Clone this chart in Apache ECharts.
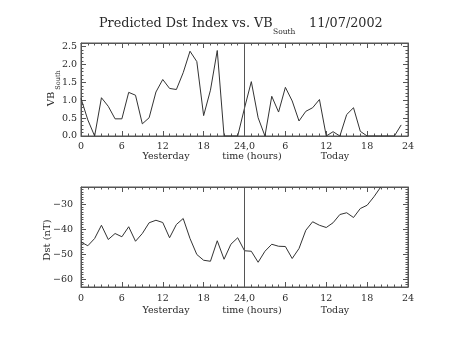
<!DOCTYPE html>
<html>
<head>
<meta charset="utf-8">
<script src="https://cdn.jsdelivr.net/npm/echarts@6/dist/echarts.min.js"></script>
<style>html,body{margin:0;padding:0;background:#fff}#c{width:453px;height:340px}#d{position:absolute;left:0;top:320px;font:8px monospace;white-space:pre;color:red}</style>
</head>
<body>
<div id="c"></div><div id="d"></div>
<script>
// Hours since start of "Yesterday" (0..47)
var hoursVB = [0,1,2,3,4,5,6,7,8,9,10,11,12,13,14,15,16,17,18,19,20,21,22,23,
               24,25,26,27,28,29,30,31,32,33,34,35,36,37,38,39,40,41,42,43,44,45,46,47];
var vbSouth = [1.05,0.45,0.0,1.07,0.83,0.48,0.48,1.22,1.14,0.34,0.51,1.23,1.58,1.33,1.30,1.77,2.37,2.08,0.57,1.28,2.39,0.0,0.0,0.0,
               0.78,1.52,0.51,0.0,1.11,0.67,1.36,0.98,0.42,0.69,0.79,1.02,0.0,0.12,0.0,0.60,0.79,0.13,0.0,0.0,0.0,0.0,0.0,0.31];
var hoursDst = [0,1,2,3,4,5,6,7,8,9,10,11,12,13,14,15,16,17,18,19,20,21,22,23,
                24,25,26,27,28,29,30,31,32,33,34,35,36,37,38,39,40,41,42,43,44];
var dst = [-45,-46.5,-43.6,-38.3,-44,-41.6,-42.9,-38.9,-44.7,-41.6,-37.3,-36.3,-37.2,-43.3,-38,-35.6,-43.6,-50,-52.3,-52.7,-44.5,-51.9,-45.9,-43.3,
           -48.5,-48.7,-53.1,-48.7,-45.9,-46.7,-46.8,-51.6,-47.6,-40.3,-36.9,-38.3,-39.2,-37.3,-34,-33.3,-35.2,-31.6,-30.3,-26.9,-23];
var xTickLabels = {0:'0',6:'6',12:'12',18:'18',24:'24,0',30:'6',36:'12',42:'18',48:'24'};
var vbTicks = [0,0.5,1.0,1.5,2.0,2.5];
var dstTicks = [-60,-50,-40,-30];
var dayMarker = 24;

var FONT = 'DejaVu Serif';
var TXT = '#2a2a2a';
var AX = '#555';

function xAxes(gi, margin) {
  function mk(pos, lab) {
    return {
      type:'value', gridIndex: gi, min:0, max:48, interval:6, position:pos,
      axisLine:{show:true, onZero:false, lineStyle:{color:AX, width:1}},
      axisTick:{show:true, inside:true, length:5, lineStyle:{color:AX}},
      minorTick:{show:true, splitNumber:6, length:2.5, lineStyle:{color:AX}},
      splitLine:{show:false},
      axisLabel:{show:true, margin:margin, color:TXT, fontFamily:FONT, fontSize:9.5,
        formatter:function(v){ return lab && xTickLabels[v] !== undefined ? xTickLabels[v] : ''; }}
    };
  }
  return [mk('bottom', true), mk('top', false)];
}
function yAxes(gi, min, max, ticks, minorInt, fmt, margin) {
  var major = function(pos, lab) {
    return {type:'value', gridIndex:gi, min:min, max:max, position:pos,
      axisLine:{show:true, onZero:false, lineStyle:{color:AX, width:1}},
      axisTick:{show:true, inside:true, length:5, customValues:ticks, lineStyle:{color:AX}},
      axisLabel:{show:true, customValues:ticks, margin:margin, color:TXT, fontFamily:FONT, fontSize:9.5,
        formatter:function(v){ return lab ? fmt(v) : ''; }},
      splitLine:{show:false}};
  };
  var minor = function(pos) {
    return {type:'value', gridIndex:gi, min:min, max:max, interval:minorInt, position:pos,
      axisLine:{show:false, onZero:false},
      axisTick:{show:true, inside:true, length:2.5, lineStyle:{color:AX}},
      axisLabel:{show:true, formatter:function(){ return ''; }}, splitLine:{show:false}};
  };
  return [major('left', true), minor('left'), major('right', false), minor('right')];
}

var chart = echarts.init(document.getElementById('c'), null, {renderer:'canvas'});
var xa = xAxes(0, 6).concat(xAxes(1, 7));
var ya = yAxes(0, 0, 2.6, vbTicks, 0.1, function(v){ return v.toFixed(1); }, 4)
   .concat(yAxes(1, -63, -23, dstTicks, 1, function(v){ return '\u2212' + Math.abs(v); }, 8));

function labelsRow(y) {
  var s = {fontFamily:FONT, fontSize:9.5, fill:TXT, textAlign:'center', textVerticalAlign:'middle'};
  return [
    {type:'text', x:166, y:y, style:Object.assign({text:'Yesterday'}, s)},
    {type:'text', x:252, y:y, style:Object.assign({text:'time (hours)'}, s)},
    {type:'text', x:335, y:y, style:Object.assign({text:'Today'}, s)}
  ];
}

function vm() {
  return {symbol:['none','none'], silent:true, label:{show:false},
    lineStyle:{color:'#555', type:'solid', width:1}, data:[{xAxis:dayMarker}], animation:false};
}

try {
chart.setOption({
  animation:false,
  backgroundColor:'#fff',
  grid:[
    {left:81, right:45, top:43, height:93, show:true, borderColor:AX, borderWidth:1, backgroundColor:'transparent'},
    {left:81, right:45, top:187, height:100, show:true, borderColor:AX, borderWidth:1, backgroundColor:'transparent'}
  ],
  xAxis: xa,
  yAxis: ya,
  series:[
    {type:'line', xAxisIndex:0, yAxisIndex:0, symbol:'none',
     lineStyle:{color:'#333', width:1},
     data: hoursVB.map(function(h,i){ return [h, vbSouth[i]]; }), markLine: vm()},
    {type:'line', xAxisIndex:2, yAxisIndex:4, symbol:'none',
     lineStyle:{color:'#333', width:1},
     data: hoursDst.map(function(h,i){ return [h, dst[i]]; }), markLine: vm()}
  ],
  graphic:[
    {type:'text', x:99, y:24, style:{text:'Predicted Dst Index vs. VB', fontFamily:FONT, fontSize:12.8, fill:TXT,
      textAlign:'left', textVerticalAlign:'middle'}},
    {type:'text', x:273, y:32, style:{text:'South', fontFamily:FONT, fontSize:7.5, fill:TXT,
      textAlign:'left', textVerticalAlign:'middle'}},
    {type:'text', x:309, y:24, style:{text:'11/07/2002', fontFamily:FONT, fontSize:12.8, fill:TXT,
      textAlign:'left', textVerticalAlign:'middle'}},
    {type:'text', x:51, y:99, rotation:Math.PI/2, style:{text:'VB', fontFamily:FONT, fontSize:10, fill:TXT,
      textAlign:'center', textVerticalAlign:'middle'}},
    {type:'text', x:58, y:80, rotation:Math.PI/2, style:{text:'South', fontFamily:FONT, fontSize:6.5, fill:TXT,
      textAlign:'center', textVerticalAlign:'middle'}},
    {type:'text', x:47, y:240, rotation:Math.PI/2, style:{
      text:'Dst (nT)', fontFamily:FONT, fontSize:10, fill:TXT, textAlign:'center', textVerticalAlign:'middle'}}
  ].concat(labelsRow(157)).concat(labelsRow(311))
});
} catch (e) { document.getElementById('d').textContent = 'ERR ' + e.message; }
</script>
</body>
</html>
